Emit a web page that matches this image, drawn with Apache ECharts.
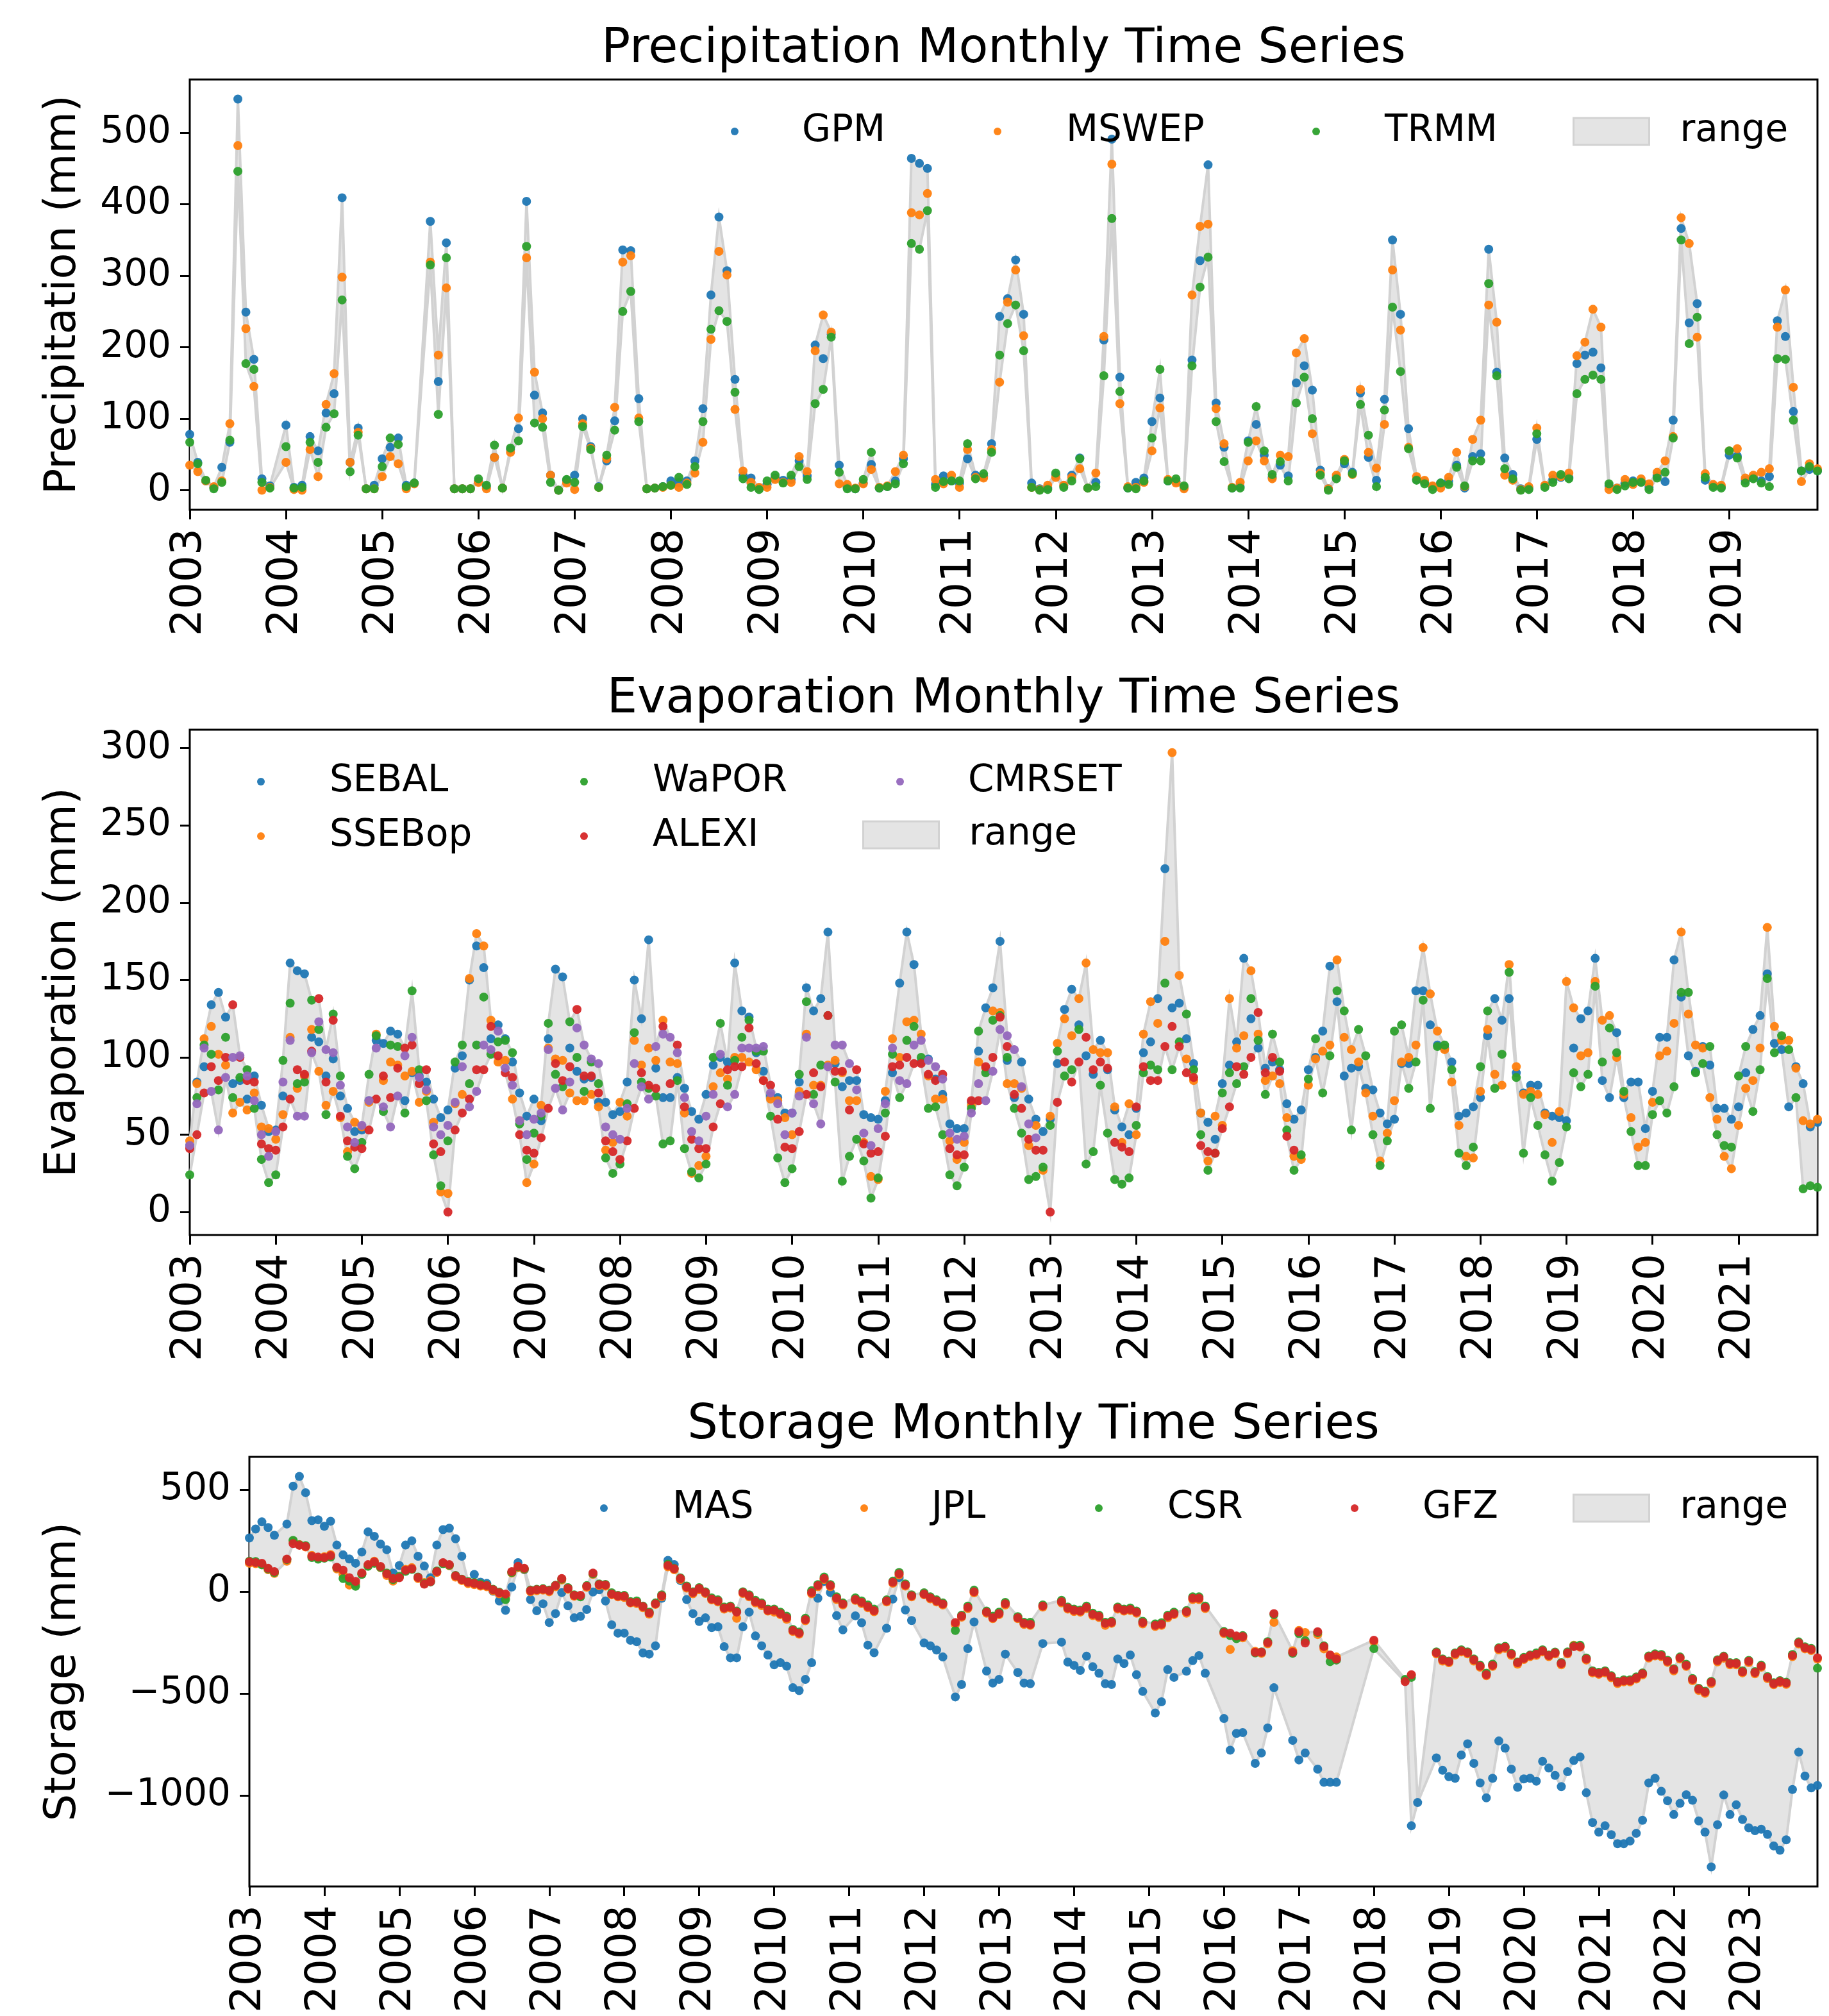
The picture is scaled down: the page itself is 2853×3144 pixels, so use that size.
<!DOCTYPE html>
<html>
<head>
<meta charset="utf-8">
<script src="https://cdn.jsdelivr.net/npm/echarts@6/dist/echarts.min.js"></script>
<style>
  html, body { margin: 0; padding: 0; background: #fff; }
  #chart { width: 2853px; height: 3144px; }
</style>
</head>
<body>
<div id="chart"></div>
<script>
var FONT = 'DejaVu Sans';
var BLUE = '#1f77b4', ORANGE = '#ff7f0e', GREEN = '#2ca02c', RED = '#d62728', PURPLE = '#9467bd';
var BAND_FILL = '#e4e4e4', BAND_LINE = '#d2d2d2';

// ---- precipitation (mm), monthly Jan 2003 .. Dec 2019, one row per year
var gpm = [
  78, 39, 13, 4, 32, 67, 547, 249, 183, 16, 6, null,
  91, 4, 7, 75, 55, 108, 135, 409, 39, 87, 2, 7,
  44, 60, 73, 7, 10, null, 376, 152, 346, 2, 2, 2,
  12, 5, 46, 3, 57, 86, 404, 133, 108, 21, 0, 14,
  21, 100, 61, 5, 41, 97, 336, 335, 128, 2, 3, 5,
  13, 11, 13, 41, 114, 273, 382, 307, 155, 20, 17, 3,
  8, 17, 14, 15, 41, 20, 203, 184, 218, 35, 4, 2,
  10, 36, 3, 5, 13, 44, 464, 457, 450, 8, 20, 13,
  10, 44, 21, 19, 65, 243, 268, 322, 246, 10, 2, 3,
  21, 6, 21, 45, 3, 11, 210, 491, 158, 3, 11, 17,
  96, 129, 13, 12, 4, 182, 321, 455, 122, 60, 3, 5,
  69, 92, 49, 18, 35, 20, 150, 174, 140, 28, 2, 18,
  37, 25, 136, 46, 14, 127, 350, 246, 86, 15, 12, 5,
  10, 12, 35, 3, 47, 51, 337, 165, 45, 22, 2, 3,
  71, 6, 15, 18, 18, 177, 189, 193, 171, 6, 3, 10,
  13, 12, 4, 20, 12, 98, 366, 234, 261, 14, 6, 5,
  49, 48, 14, 18, 13, 19, 237, 215, 110, 27, 29, 27
];
var mswep = [
  35, 26, 13, 5, 13, 93, 482, 226, 145, 0, 4, null,
  39, 1, 0, 57, 19, 120, 163, 298, 39, 81, 2, 2,
  19, 47, 37, 2, 9, null, 319, 189, 283, 2, 2, 2,
  11, 2, 46, 3, 53, 101, 325, 165, 100, 21, 0, 10,
  1, 93, 59, 4, 44, 116, 319, 328, 101, 2, 3, 4,
  7, 4, 10, 24, 67, 211, 334, 301, 113, 27, 11, 4,
  4, 15, 11, 11, 47, 26, 195, 245, 221, 9, 8, 3,
  9, 29, 4, 6, 26, 49, 388, 385, 415, 15, 9, 21,
  4, 57, 18, 17, 57, 151, 263, 308, 216, 4, 1, 7,
  18, 7, 18, 30, 3, 24, 215, 456, 121, 5, 4, 11,
  55, 115, 15, 10, 2, 273, 369, 372, 114, 65, 4, 11,
  41, 69, 41, 16, 49, 47, 192, 212, 79, 24, 2, 21,
  43, 22, 141, 53, 31, 92, 308, 224, 60, 19, 14, 6,
  3, 18, 53, 5, 71, 98, 259, 235, 21, 14, 1, 5,
  87, 7, 21, 19, 24, 188, 207, 253, 228, 1, 3, 15,
  8, 16, 9, 25, 41, 75, 381, 345, 214, 23, 8, 7,
  55, 58, 17, 21, 25, 30, 228, 280, 144, 12, 37, 30
];
var trmm = [
  67, 37, 14, 2, 11, 70, 446, 177, 169, 11, 3, null,
  61, 3, 4, 67, 39, 88, 107, 266, 26, 77, 2, 2,
  33, 73, 64, 5, 10, null, 315, 106, 325, 2, 2, 2,
  16, 7, 63, 3, 59, 69, 341, 94, 88, 11, 0, 15,
  11, 89, 57, 4, 49, 84, 250, 278, 96, 2, 3, 5,
  7, 18, 8, 33, 96, 225, 251, 236, 137, 16, 4, 1,
  13, 21, 10, 21, 33, 15, 121, 141, 214, 25, 2, 2,
  15, 53, 3, 5, 9, 37, 345, 337, 391, 4, 12, 13,
  13, 65, 16, 23, 53, 189, 233, 259, 195, 4, 0, 1,
  24, 4, 13, 44, 3, 5, 160, 380, 138, 3, 2, 13,
  73, 169, 13, 16, 6, 174, 284, 326, 96, 40, 3, 3,
  67, 117, 55, 22, 40, 13, 122, 158, 100, 21, 0, 16,
  41, 23, 120, 77, 5, 112, 256, 166, 58, 14, 9, 1,
  10, 8, 32, 6, 41, 41, 289, 160, 30, 16, 0, 1,
  79, 4, 11, 22, 16, 135, 155, 161, 155, 9, 1, 6,
  11, 11, 1, 17, 25, 73, 350, 205, 242, 18, 4, 3,
  55, 45, 10, 16, 10, 5, 184, 183, 98, 27, 33, 27
];

// ---- evaporation (mm), monthly Jan 2003 .. Dec 2021
var sebal = [
  43, 84, 94, 134, 142, 126, 83, 85, 73, 88, 69, 52,
  53, 75, 161, 156, 154, 113, 110, 88, 99, 75, 67, 52,
  53, 72, 111, 109, 117, 115, 72, 90, 88, 84, 73, 61,
  66, 93, 101, 150, 172, 158, 112, 121, 112, 97, 77, 62,
  73, 59, 112, 157, 152, 106, 91, 86, 87, 71, 71, 63,
  65, 84, 150, 125, 176, 93, 74, 74, 87, 80, 65, 60,
  76, 95, 100, 97, 161, 130, 126, 103, 91, 75, 74, 64,
  64, 84, 145, 130, 138, 181, 96, 81, 85, 85, 63, 61,
  60, 72, 90, 148, 181, 160, 97, 99, 86, 76, 57, 54,
  54, 71, 104, 132, 145, 175, 98, 74, 97, 73, 60, 52,
  60, 96, 131, 144, 121, 101, 89, 111, 92, 66, 55, 50,
  67, 103, 110, 138, 222, 132, 135, 112, 96, 64, 58, 47,
  83, 95, 110, 164, 125, 106, 93, 97, 92, 70, 60, 66,
  92, 100, 117, 159, 136, 88, 93, 94, 80, 79, 64, 57,
  60, 96, 96, 143, 143, 121, 108, 106, 97, 62, 64, 68,
  74, 114, 138, 124, 138, 90, 77, 82, 82, 64, 62, 61,
  59, 106, 125, 130, 164, 85, 74, 116, 74, 84, 84, 54,
  78, 113, 113, 163, 139, 101, 91, 107, 95, 67, 67, 60,
  68, 90, 118, 127, 154, 109, 105, 68, 94, 83, 55, 58
];
var ssebop = [
  46, 83, 112, 120, 102, 95, 64, 71, 66, 77, 55, 54,
  47, 63, 113, 80, 88, 118, 91, 69, 78, 61, 39, 58,
  55, 71, 115, 85, 97, 95, 88, 91, 71, 78, 58, 13,
  12, 70, 76, 151, 180, 172, 124, 97, 98, 73, 59, 19,
  31, 69, 106, 99, 98, 77, 72, 72, 76, 68, 40, 45,
  71, 62, 111, 95, 106, 98, 124, 97, 96, 64, 25, 30,
  36, 81, 90, 86, 100, 100, 97, 92, 85, 73, 72, 61,
  50, 78, 115, 82, 82, 95, 98, 90, 72, 72, 45, 23,
  21, 78, 112, 100, 123, 124, 115, 88, 73, 73, 46, 34,
  45, 69, 97, 93, 130, 129, 83, 83, 80, 43, 56, 27,
  62, 109, 125, 114, 138, 161, 105, 103, 103, 68, 45, 70,
  50, 115, 136, 122, 175, 297, 153, 99, 85, 64, 33, 62,
  56, 138, 106, 114, 156, 115, 85, 88, 83, 61, 36, 34,
  82, 99, 104, 108, 163, 113, 105, 97, 77, 62, 33, 51,
  72, 97, 100, 108, 171, 141, 117, 105, 84, 56, 36, 35,
  78, 118, 89, 82, 160, 94, 76, 78, 76, 63, 45, 65,
  149, 132, 101, 103, 149, 124, 127, 100, 76, 61, 42, 45,
  71, 101, 104, 122, 181, 128, 108, 106, 74, 60, 36, 28,
  56, 80, 85, 106, 184, 120, 111, 111, 93, 59, 57, 60
];
var wapor = [
  24, 74, 108, 102, 79, 113, 74, 87, 92, 67, 34, 19,
  24, 98, 135, 83, 84, 137, 118, 63, 128, 88, 36, 28,
  45, 89, 114, 65, 108, 107, 64, 143, 92, 72, 37, 17,
  46, 97, 108, 83, 108, 139, 102, 110, 111, 103, 57, 34,
  51, 62, 122, 89, 81, 123, 100, 78, 97, 83, 35, 25,
  31, 70, 116, 84, 80, 75, 44, 46, 85, 41, 26, 22,
  31, 100, 122, 82, 98, 113, 124, 104, 104, 62, 35, 19,
  28, 89, 136, 76, 95, 127, 84, 20, 36, 47, 33, 9,
  22, 64, 102, 74, 111, 120, 100, 67, 68, 50, 24, 17,
  29, 67, 117, 90, 124, 127, 100, 67, 51, 21, 23, 29,
  56, 104, 88, 92, 118, 31, 39, 82, 51, 21, 18, 22,
  56, 90, 95, 92, 148, 92, 110, 128, 92, 50, 27, 38,
  77, 90, 83, 94, 138, 111, 76, 115, 97, 53, 27, 37,
  86, 112, 77, 101, 143, 130, 53, 118, 101, 50, 30, 46,
  117, 121, 80, 97, 137, 67, 107, 108, 92, 38, 30, 42,
  94, 130, 80, 102, 155, 87, 38, 74, 56, 37, 20, 32,
  55, 90, 81, 89, 146, 97, 119, 103, 78, 52, 30, 30,
  63, 72, 64, 81, 142, 142, 90, 96, 107, 50, 43, 42,
  88, 107, 65, 92, 151, 103, 114, 105, 74, 15, 17, 16
];
var alexi = [
  41, 50, 77, 94, 85, 100, 134, 100, 85, 84, 44, 41,
  40, 55, 73, 92, 89, 104, 138, 84, 124, 62, 46, 42,
  41, 53, 73, 88, 74, 93, 106, 108, 83, 92, 44, 39,
  0, 53, 64, 73, 92, 92, 120, 101, 90, 87, 50, 40,
  38, 48, 67, 96, 85, 94, 131, 88, 88, 77, 46, 39,
  34, 46, 67, 90, 82, 80, 120, 83, 108, 68, 47, 41,
  41, 55, 70, 92, 94, 94, 119, 96, 85, 82, 60, 42,
  41, 52, 76, 90, 81, 127, 91, 91, 66, 92, 44, 38,
  39, 49, 94, 95, 100, 96, 96, 89, 85, 89, 41, 37,
  37, 72, 72, 94, 100, 126, 107, 76, 67, 47, 40, 40,
  0, 71, 97, 84, 97, 113, 92, 97, 93, 45, 42, 39,
  68, 94, 85, 85, 107, 120, 107, 90, 87, 43, 39, 38,
  54, 68, 94, 89, 100, 129, 90, 100, 91, 49, 40, null
];
var cmrset = [
  43, 70, 106, 78, 53, 87, 100, 101, 88, 72, 50, 36,
  52, 84, 111, 62, 62, 103, 123, 105, 103, 82, 55, 45,
  56, 72, 106, 68, 55, 75, 101, 113, 87, 79, 55, 50,
  56, 71, 94, 68, 78, 108, 105, 117, 93, 82, 59, 50,
  60, 64, 105, 80, 66, 84, 119, 108, 99, 96, 55, 50,
  47, 67, 96, 81, 73, 107, 115, 113, 103, 74, 52, 46,
  62, 76, 102, 68, 76, 106, 106, 106, 107, 77, 70, 50,
  64, 75, 113, 70, 57, 94, 108, 108, 96, 79, 51, 43,
  54, 70, 106, 85, 83, 108, 111, 98, 94, 86, 51, 47,
  49, 64, 83, 72, 91, 118, 114, 105, 81, 57, 48, null
];

// ---- storage (mm); months counted from Jan 2003, GRACE gaps left out
var stoMonth = [
  0, 1, 2, 3, 4, 6, 7, 8, 9, 10, 11, 12, 13,
  14, 15, 16, 17, 18, 19, 20, 21, 22, 23, 24, 25, 26,
  27, 28, 29, 30, 31, 32, 33, 34, 35, 36, 37, 38, 39,
  40, 41, 42, 43, 44, 45, 46, 47, 48, 49, 50, 51, 52,
  53, 54, 55, 56, 57, 58, 59, 60, 61, 62, 63, 64, 65,
  66, 67, 68, 69, 70, 71, 72, 73, 74, 75, 76, 77, 78,
  79, 80, 81, 82, 83, 84, 85, 86, 87, 88, 89, 90, 91,
  92, 93, 94, 95, 97, 98, 99, 100, 102, 103, 104, 105, 106,
  108, 109, 110, 111, 113, 114, 115, 116, 118, 119, 120, 121, 123,
  124, 125, 127, 130, 131, 132, 133, 134, 135, 136, 137, 138, 139,
  140, 141, 142, 143, 145, 146, 147, 148, 150, 151, 152, 153, 156,
  157, 158, 159, 161, 162, 163, 164, 167, 168, 169, 171, 172, 173,
  174, 180, 185, 186, 187, 190, 191, 192, 193, 194, 195, 196, 197,
  198, 199, 200, 201, 202, 203, 204, 205, 206, 207, 208, 209, 210,
  211, 212, 213, 214, 215, 216, 217, 218, 219, 220, 221, 222, 223,
  224, 225, 226, 227, 228, 229, 230, 231, 232, 233, 234, 235, 236,
  237, 238, 239, 240, 241, 242, 243, 244, 245, 246, 247, 248, 249, 250, 251
];
var mas = [
  264, 308, 343, 315, 277, 332, 518, 566, 486, 349, 353, 321, 346,
  229, 181, 161, 140, 195, 294, 272, 234, 206, 92, 129, 229, 250,
  174, 126, 69, 229, 305, 312, 260, 174, 45, 85, 47, 41, 3,
  -45, -91, 23, 143, 108, -38, -93, -59, -151, -107, -4, -69, -128,
  -121, -87, -1, 10, -45, -162, -203, -203, -238, -245, -300, -306, -265,
  -32, 154, 133, 55, -38, -107, -146, -128, -176, -172, -269, -324, -324,
  -172, -100, -217, -265, -310, -358, -348, -365, -471, -485, -430, -348, -32,
  51, -4, -117, -187, -118, -152, -262, -299, -179, -36, 70, -89, -141,
  -251, -265, -286, -320, -516, -455, -279, -148, -389, -448, -430, -306, -396,
  -448, -451, -254, -247, -345, -361, -386, -316, -368, -400, -451, -455, -330,
  -352, -310, -407, -489, -595, -540, -382, -420, -390, -338, -313, -400, -622,
  -777, -695, -691, -842, -791, -668, -471, -729, -825, -791, -870, -935, -935,
  -935, null, null, -1148, -1034, -815, -876, -907, -915, -801, -746, -842, -938,
  -1011, -915, -732, -767, -870, -959, -918, -915, -929, -832, -865, -901, -956,
  -883, -828, -810, -986, -1132, -1179, -1148, -1192, -1236, -1236, -1223, -1185, -1121,
  -938, -915, -979, -1025, -1093, -1038, -996, -1023, -1124, -1179, -1350, -1143, -997,
  -1093, -1045, -1117, -1158, -1172, -1165, -1190, -1247, -1268, -1217, -970, -787, -904, -962, -950
];
var jpl = [
  140, 138, 135, 108, 90, 150, 248, 232, 220, 178, 165, 172, 182,
  112, 85, 33, 40, 88, 128, 150, 118, 80, 52, 72, 110, 118,
  65, 45, 55, 95, 140, 128, 72, 55, 40, 35, 28, 25, 5,
  -10, -20, 92, 118, 110, 0, 5, 8, 0, 25, 58, 12, -22,
  -20, 22, 85, 30, 28, -15, -25, -28, -55, -58, -78, -110, -62,
  -25, 122, 108, 60, 18, -10, 10, -8, -40, -50, -85, -80, -130,
  -8, -25, -55, -68, -95, -100, -112, -135, -195, -208, -142, -10, 25,
  60, 25, -38, -65, -42, -58, -78, -98, -50, 42, 82, 28, -25,
  -15, -35, -50, -65, -160, -125, -82, -5, -105, -132, -112, -65, -132,
  -160, -165, -75, -55, -85, -97, -100, -82, -117, -126, -165, -155, -85,
  -95, -92, -105, -158, -170, -165, -128, -112, -105, -38, -38, -82, -205,
  -283, -222, -226, -292, -302, -255, -150, -290, -190, -200, -210, -280, -315,
  -320, -245, -435, -410, null, -305, -340, -348, -310, -295, -305, -340, -370,
  -412, -366, -285, -278, -312, -355, -332, -318, -312, -295, -318, -305, -358,
  -305, -262, -272, -335, -398, -405, -398, -422, -450, -442, -442, -428, -408,
  -325, -315, -318, -346, -388, -330, -366, -436, -484, -498, -450, -344, -326,
  -358, -358, -398, -347, -402, -370, -426, -456, -446, -454, -318, -256, -280, -288, -330
];
var csr = [
  150, 148, 132, 112, 95, 158, 252, 230, 226, 168, 160, 165, 170,
  118, 65, 52, 27, 85, 125, 140, 120, 92, 60, 75, 100, 110,
  72, 40, 48, 102, 138, 130, 80, 62, 50, 45, 38, 32, 12,
  -2, -38, 95, 122, 112, 8, 12, 15, 8, 32, 62, 20, -15,
  -25, 30, 88, 38, 36, -5, -18, -18, -48, -45, -70, -100, -55,
  -15, 135, 115, 68, 28, 0, 20, 0, -30, -40, -75, -70, -95,
  0, -15, -42, -55, -85, -85, -100, -120, -185, -198, -130, 5, 35,
  72, 35, -25, -55, -30, -45, -65, -85, -40, 52, 95, 38, -15,
  -5, -25, -40, -55, -190, -115, -70, 8, -95, -120, -100, -52, -122,
  -150, -150, -65, -42, -75, -85, -90, -70, -105, -115, -150, -145, -75,
  -85, -80, -95, -145, -158, -152, -115, -100, -92, -25, -25, -70, -195,
  -215, -230, -215, -300, -295, -245, -112, -302, -205, -240, -200, -265, -343,
  -335, -279, -430, -420, null, -295, -330, -340, -300, -285, -295, -330, -360,
  -400, -355, -275, -268, -302, -345, -322, -310, -300, -285, -310, -296, -348,
  -295, -265, -262, -325, -388, -395, -388, -412, -440, -432, -432, -418, -398,
  -315, -305, -308, -336, -378, -320, -356, -426, -474, -488, -440, -334, -316,
  -348, -348, -388, -337, -392, -360, -416, -446, -436, -444, -308, -246, -270, -278, -375
];
var gfz = [
  147, 143, 140, 115, 99, 160, 236, 228, 222, 174, 170, 168, 177,
  120, 106, 69, 51, 92, 133, 147, 124, 88, 65, 69, 106, 113,
  70, 37, 50, 99, 143, 133, 78, 60, 47, 41, 33, 30, 10,
  -5, -11, 99, 125, 115, 5, 10, 12, 5, 30, 65, 16, -18,
  -18, 27, 92, 35, 33, -11, -21, -22, -52, -52, -73, -104, -59,
  -20, 129, 113, 65, 23, -4, 16, -4, -36, -45, -80, -75, -100,
  -4, -20, -49, -60, -91, -91, -107, -128, -190, -203, -137, -4, 30,
  65, 30, -32, -60, -38, -52, -73, -93, -45, 47, 88, 33, -20,
  -11, -30, -45, -60, -151, -120, -77, 0, -100, -128, -107, -59, -128,
  -155, -160, -70, -49, -80, -91, -95, -77, -111, -121, -155, -150, -80,
  -90, -87, -100, -151, -165, -159, -121, -107, -98, -32, -32, -77, -200,
  -203, -217, -220, -297, -297, -250, -107, -297, -196, -251, -196, -269, -310,
  -330, -238, -441, -407, null, -299, -334, -343, -304, -290, -299, -334, -365,
  -407, -361, -279, -272, -306, -348, -327, -313, -306, -290, -313, -300, -352,
  -300, -269, -269, -330, -393, -400, -393, -416, -444, -437, -437, -423, -402,
  -320, -310, -313, -341, -382, -324, -361, -430, -478, -492, -444, -338, -320,
  -352, -352, -393, -341, -396, -365, -420, -451, -440, -448, -313, -251, -275, -283, -324
];

// ---- helpers
function seq(n) { var a = []; for (var i = 0; i < n; i++) a.push(i); return a; }
function monthX(m) { return 2003 + m / 12; }

function toPoints(months, vals) {
  var out = [];
  for (var i = 0; i < months.length; i++) {
    if (vals[i] !== null && vals[i] !== undefined) out.push([monthX(months[i]), vals[i]]);
  }
  return out;
}

// [x, min, max] over all products, for the grey "range" band
function envelope(months, lists) {
  var env = [];
  for (var i = 0; i < months.length; i++) {
    var vs = [];
    lists.forEach(function (l) { if (l[i] !== null && l[i] !== undefined) vs.push(l[i]); });
    if (!vs.length) continue;
    env.push([monthX(months[i]), Math.min.apply(null, vs), Math.max.apply(null, vs)]);
  }
  return env;
}

function padExtent(lists) {
  var mn = Infinity, mx = -Infinity;
  lists.forEach(function (l) {
    l.forEach(function (v) { if (v !== null && v !== undefined) { mn = Math.min(mn, v); mx = Math.max(mx, v); } });
  });
  var p = (mx - mn) * 0.05;
  return [mn - p, mx + p];
}

// band drawn as one polygon through the axis scales
function bandRenderer(env) {
  return function (params, api) {
    var top = env.map(function (e) { return api.coord([e[0], e[2]]); });
    var bot = env.map(function (e) { return api.coord([e[0], e[1]]); });
    var ring = top.concat(bot.slice().reverse());
    return {
      type: 'group',
      children: [
        { type: 'polygon', shape: { points: ring }, style: { fill: BAND_FILL, stroke: null } },
        { type: 'polyline', shape: { points: top }, style: { fill: null, stroke: BAND_LINE, lineWidth: 4 } },
        { type: 'polyline', shape: { points: bot }, style: { fill: null, stroke: BAND_LINE, lineWidth: 4 } }
      ]
    };
  };
}

var panels = [
  {
    grid: { left: 296, top: 124, width: 2539, height: 671 },
    title: 'Precipitation Monthly Time Series', titleY: 78,
    yName: 'Precipitation (mm)', nameGap: 163,
    yTicks: [0, 100, 200, 300, 400, 500],
    months: seq(204), lastMonth: 203,
    products: [['GPM', gpm, BLUE], ['MSWEP', mswep, ORANGE], ['TRMM', trmm, GREEN]]
  },
  {
    grid: { left: 296, top: 1138, width: 2539, height: 788 },
    title: 'Evaporation Monthly Time Series', titleY: 1092,
    yName: 'Evaporation (mm)', nameGap: 163,
    yTicks: [0, 50, 100, 150, 200, 250, 300],
    months: seq(228), lastMonth: 227,
    products: [['SEBAL', sebal, BLUE], ['SSEBop', ssebop, ORANGE], ['WaPOR', wapor, GREEN],
               ['ALEXI', alexi, RED], ['CMRSET', cmrset, PURPLE]]
  },
  {
    grid: { left: 389, top: 2272, width: 2446, height: 670 },
    title: 'Storage Monthly Time Series', titleY: 2224,
    yName: 'Storage (mm)', nameGap: 256,
    yTicks: [-1000, -500, 0, 500],
    months: stoMonth, lastMonth: 251,
    products: [['MAS', mas, BLUE], ['JPL', jpl, ORANGE], ['CSR', csr, GREEN], ['GFZ', gfz, RED]]
  }
];

var grids = [], xAxes = [], yAxes = [], series = [], titles = [];

panels.forEach(function (p, gi) {
  grids.push({
    left: p.grid.left, top: p.grid.top, width: p.grid.width, height: p.grid.height,
    show: true, borderColor: '#000', borderWidth: 3, backgroundColor: 'transparent',
    outerBoundsMode: 'none'
  });

  var years = [];
  for (var y = 2003; y <= 2003 + Math.floor(p.lastMonth / 12); y++) years.push(y);
  xAxes.push({
    type: 'value', gridIndex: gi, min: 2003, max: monthX(p.lastMonth),
    axisLine: { show: false, onZero: false }, splitLine: { show: false },
    axisTick: { customValues: years, length: 15, lineStyle: { color: '#000', width: 3 } },
    axisLabel: {
      customValues: years, rotate: 90, margin: 29, fontSize: 66, fontFamily: FONT, color: '#000',
      formatter: function (v) { return String(Math.round(v)); }
    }
  });

  var lists = p.products.map(function (d) { return d[1]; });
  var ext = padExtent(lists);
  yAxes.push({
    type: 'value', gridIndex: gi, min: ext[0], max: ext[1],
    name: p.yName, nameLocation: 'middle', nameGap: p.nameGap, nameRotate: 90,
    nameTextStyle: { fontSize: 67, fontFamily: FONT, color: '#000' },
    axisLine: { show: false, onZero: false }, splitLine: { show: false },
    axisTick: { customValues: p.yTicks, length: 15, lineStyle: { color: '#000', width: 3 } },
    axisLabel: {
      customValues: p.yTicks, margin: 29, fontSize: 58, fontFamily: FONT, color: '#000',
      formatter: function (v) { return v < 0 ? '\u2212' + Math.abs(v) : String(v); }
    }
  });

  var env = envelope(p.months, lists);
  series.push({
    name: 'range', type: 'custom', xAxisIndex: gi, yAxisIndex: gi,
    data: [[2003, 0]], renderItem: bandRenderer(env), silent: true, z: 1,
    itemStyle: { color: BAND_FILL }
  });

  p.products.forEach(function (d) {
    series.push({
      name: d[0], type: 'scatter', xAxisIndex: gi, yAxisIndex: gi,
      data: toPoints(p.months, d[1]), symbolSize: 14, z: 3,
      itemStyle: { color: d[2], opacity: 0.95 }
    });
  });

  titles.push({
    type: 'text', x: p.grid.left + p.grid.width / 2, y: p.titleY,
    style: {
      text: p.title, fontSize: 75, fontFamily: FONT, fill: '#000',
      align: 'center', verticalAlign: 'middle', textAlign: 'center', textVerticalAlign: 'middle'
    }
  });
});

// one legend box per entry, so each sits where the original put it
function dotLegend(name, cx, cy, textX) {
  return {
    data: [{ name: name, icon: 'circle' }], left: cx - 6, top: cy - 30, padding: 0,
    itemWidth: 12, itemHeight: 12, selectedMode: false,
    textStyle: { fontSize: 58, fontFamily: FONT, color: '#000', lineHeight: 60,
                 padding: [0, 0, 0, textX - (cx + 6) - 5] }
  };
}
function patchLegend(left, cy, textX) {
  return {
    data: [{ name: 'range', icon: 'rect', itemStyle: { color: BAND_FILL, borderColor: BAND_LINE, borderWidth: 3 } }],
    left: left, top: cy - 30, padding: 0, itemWidth: 118, itemHeight: 42, selectedMode: false,
    textStyle: { fontSize: 58, fontFamily: FONT, color: '#000', lineHeight: 60,
                 padding: [0, 0, 0, textX - (left + 118) - 5] }
  };
}

var legends = [
  dotLegend('GPM', 1146, 205, 1251),
  dotLegend('MSWEP', 1556, 205, 1663),
  dotLegend('TRMM', 2053, 205, 2160),
  patchLegend(2453, 205, 2619),

  dotLegend('SEBAL', 407, 1219, 514),
  dotLegend('SSEBop', 407, 1304, 514),
  dotLegend('WaPOR', 911, 1219, 1018),
  dotLegend('ALEXI', 911, 1304, 1018),
  dotLegend('CMRSET', 1404, 1219, 1510),
  patchLegend(1345, 1302, 1510),

  dotLegend('MAS', 942, 2352, 1049),
  dotLegend('JPL', 1348, 2352, 1453),
  dotLegend('CSR', 1714, 2352, 1821),
  dotLegend('GFZ', 2113, 2352, 2219),
  patchLegend(2453, 2352, 2619)
];

var chart = echarts.init(document.getElementById('chart'), null, { renderer: 'canvas', width: 2853, height: 3144 });
chart.setOption({
  animation: false,
  backgroundColor: '#fff',
  textStyle: { fontFamily: FONT },
  grid: grids,
  xAxis: xAxes,
  yAxis: yAxes,
  legend: legends,
  graphic: titles,
  series: series
});
</script>
</body>
</html>
